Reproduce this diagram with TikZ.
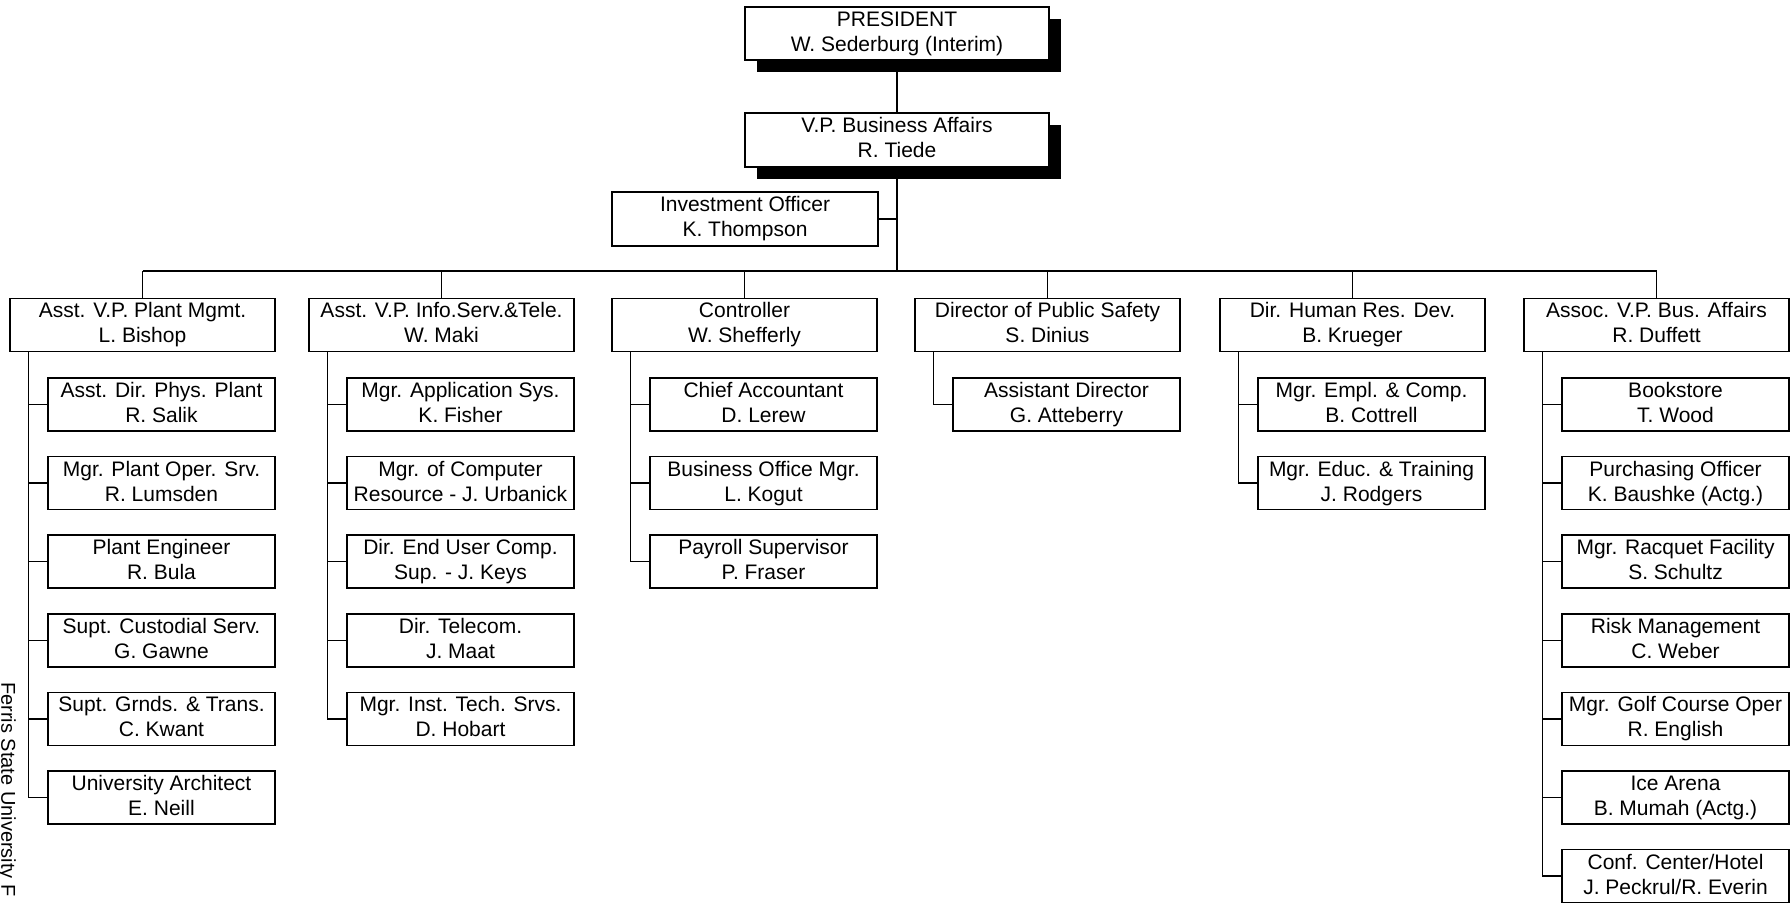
\documentclass[tikz,border=0pt]{standalone}
\usepackage{fontspec}
\setmainfont{Liberation Sans}
\usetikzlibrary{shadows,calc}
\newcommand\twoline[2]{\vphantom{Ag}#1\\#2\vphantom{g}}
\begin{document}
\begin{tikzpicture}[x=1pt,y=-1pt,
  box/.style={draw=black, line width=1.6pt, fill=white, rectangle, inner xsep=0pt, inner ysep=0pt,
    align=center, font=\fontsize{21}{25}\selectfont, minimum height=53pt},
  topbox/.style={box, minimum width=304pt,
    drop shadow={shadow xshift=12pt, shadow yshift=-12pt, fill=black, opacity=1}},
  pbox/.style={box, minimum width=265pt},
  cbox/.style={box, minimum width=227pt},
  conn/.style={line width=1.4pt, draw=black}]
\useasboundingbox (0,0) rectangle (1790,903);

% top
\node[topbox] (pres) at (897,33.5) {\twoline{PRESIDENT}{W. Sederburg (Interim)}};
\node[topbox, minimum height=54pt] (vp) at (897,140) {\twoline{V.P. Business Affairs}{R. Tiede}};
\node[box, minimum width=266pt, minimum height=54pt] (inv) at (745,219) {\twoline{Investment Officer}{K. Thompson}};

% level 2
\node[pbox] (p1) at (142.5,325) {\twoline{Asst. V.P. Plant Mgmt.}{L. Bishop}};
\node[pbox] (p2) at (441.5,325) {\twoline{Asst. V.P. Info.Serv.\&Tele.}{W. Maki}};
\node[pbox] (p3) at (744.5,325) {\twoline{Controller}{W. Shefferly}};
\node[pbox] (p4) at (1047.5,325) {\twoline{Director of Public Safety}{S. Dinius}};
\node[pbox] (p5) at (1352.5,325) {\twoline{Dir. Human Res. Dev.}{B. Krueger}};
\node[pbox] (p6) at (1656.5,325) {\twoline{Assoc. V.P. Bus. Affairs}{R. Duffett}};

% column 1
\node[cbox] (c1a) at (161.5,404.5) {\twoline{Asst. Dir. Phys. Plant}{R. Salik}};
\node[cbox] (c1b) at (161.5,483.1) {\twoline{Mgr. Plant Oper. Srv.}{R. Lumsden}};
\node[cbox] (c1c) at (161.5,561.7) {\twoline{Plant Engineer}{R. Bula}};
\node[cbox] (c1d) at (161.5,640.3) {\twoline{Supt. Custodial Serv.}{G. Gawne}};
\node[cbox] (c1e) at (161.5,718.9) {\twoline{Supt. Grnds. \& Trans.}{C. Kwant}};
\node[cbox] (c1f) at (161.5,797.5) {\twoline{University Architect}{E. Neill}};

% column 2
\node[cbox] (c2a) at (460.5,404.5) {\twoline{Mgr. Application Sys.}{K. Fisher}};
\node[cbox] (c2b) at (460.5,483.1) {\twoline{Mgr. of Computer}{Resource - J. Urbanick}};
\node[cbox] (c2c) at (460.5,561.7) {\twoline{Dir. End User Comp.}{Sup. - J. Keys}};
\node[cbox] (c2d) at (460.5,640.3) {\twoline{Dir. Telecom.}{J. Maat}};
\node[cbox] (c2e) at (460.5,718.9) {\twoline{Mgr. Inst. Tech. Srvs.}{D. Hobart}};

% column 3
\node[cbox] (c3a) at (763.5,404.5) {\twoline{Chief Accountant}{D. Lerew}};
\node[cbox] (c3b) at (763.5,483.1) {\twoline{Business Office Mgr.}{L. Kogut}};
\node[cbox] (c3c) at (763.5,561.7) {\twoline{Payroll Supervisor}{P. Fraser}};

% column 4
\node[cbox] (c4a) at (1066.5,404.5) {\twoline{Assistant Director}{G. Atteberry}};

% column 5
\node[cbox] (c5a) at (1371.5,404.5) {\twoline{Mgr. Empl. \& Comp.}{B. Cottrell}};
\node[cbox] (c5b) at (1371.5,483.1) {\twoline{Mgr. Educ. \& Training}{J. Rodgers}};

% column 6
\node[cbox] (c6a) at (1675.5,404.5) {\twoline{Bookstore}{T. Wood}};
\node[cbox] (c6b) at (1675.5,483.1) {\twoline{Purchasing Officer}{K. Baushke (Actg.)}};
\node[cbox] (c6c) at (1675.5,561.7) {\twoline{Mgr. Racquet Facility}{S. Schultz}};
\node[cbox] (c6d) at (1675.5,640.3) {\twoline{Risk Management}{C. Weber}};
\node[cbox] (c6e) at (1675.5,718.9) {\twoline{Mgr. Golf Course Oper}{R. English}};
\node[cbox] (c6f) at (1675.5,797.5) {\twoline{Ice Arena}{B. Mumah (Actg.)}};
\node[cbox] (c6g) at (1675.5,876.1) {\twoline{Conf. Center/Hotel}{J. Peckrul/R. Everin}};

% side text
\node[rotate=-90, anchor=base west, inner sep=0pt, font=\fontsize{20}{24}\selectfont] (side) at (1.5,682) {Ferris State University F};

% connectors
\coordinate (busL) at (142.5,271);
\coordinate (busR) at (1656.5,271);
\draw[conn] (pres.south) -- (vp.north);
\draw[conn] (vp.south) -- (vp.south |- busL);
\draw[conn] (inv.east) -- (inv.east -| vp.south);
\draw[conn] (busL) -- (busR);
\foreach \p in {p1,p2,p3,p4,p5,p6}{
  \draw[conn] (\p.north) -- (\p.north |- busL);
  \coordinate (\p s) at ([xshift=19pt]\p.south west);
}
\foreach \c in {c1a,c1b,c1c,c1d,c1e,c1f}{\draw[conn] (p1s) |- (\c.west);}
\foreach \c in {c2a,c2b,c2c,c2d,c2e}{\draw[conn] (p2s) |- (\c.west);}
\foreach \c in {c3a,c3b,c3c}{\draw[conn] (p3s) |- (\c.west);}
\foreach \c in {c4a}{\draw[conn] (p4s) |- (\c.west);}
\foreach \c in {c5a,c5b}{\draw[conn] (p5s) |- (\c.west);}
\foreach \c in {c6a,c6b,c6c,c6d,c6e,c6f,c6g}{\draw[conn] (p6s) |- (\c.west);}
\end{tikzpicture}
\end{document}
